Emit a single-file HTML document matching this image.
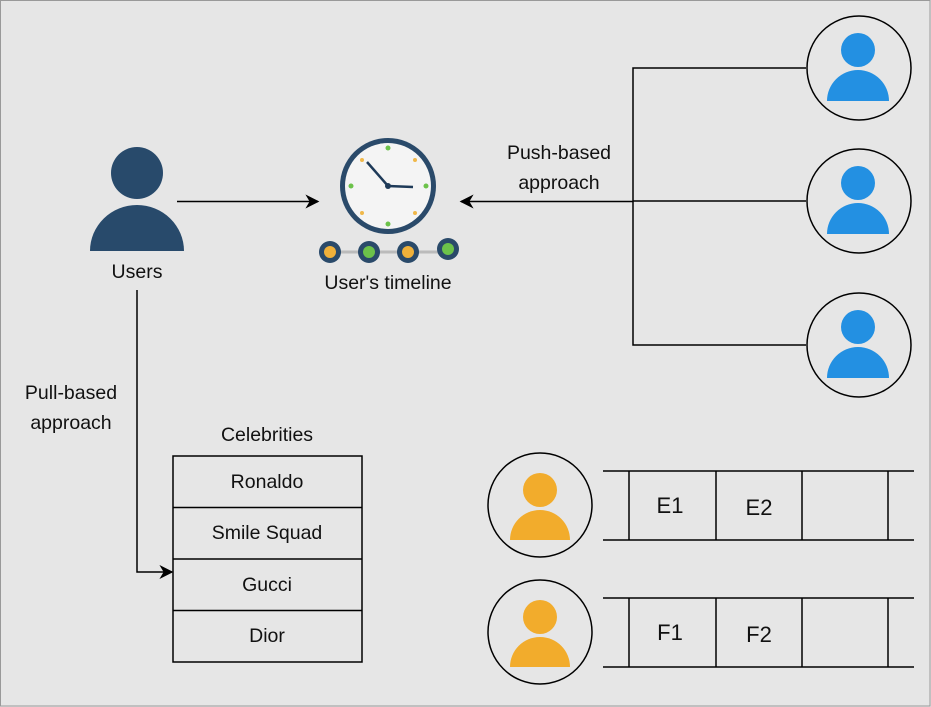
<!DOCTYPE html>
<html><head><meta charset="utf-8"><style>
html,body{margin:0;padding:0;background:#e6e6e6;}
svg{display:block;font-family:"Liberation Sans",Arial,sans-serif;}
</style></head><body>
<svg width="931" height="707" viewBox="0 0 931 707" xmlns="http://www.w3.org/2000/svg">
<defs>
<marker id="ar" viewBox="0 0 10 10" refX="9" refY="5" markerWidth="14" markerHeight="14" markerUnits="userSpaceOnUse" orient="auto">
<path d="M0,0 L10,5 L0,10 L3,5 Z" fill="#000"/></marker>
</defs>
<rect width="931" height="707" fill="#e6e6e6"/>
<rect x="0.5" y="0.5" width="929.5" height="705.5" fill="none" stroke="#999" stroke-width="1"/>

<!-- Users -->
<circle cx="137" cy="173" r="26" fill="#284a6b"/>
<path d="M90,251 A47,46 0 0 1 184,251 Z" fill="#284a6b"/>
<text x="137" y="278" font-size="19.5" text-anchor="middle" fill="#111">Users</text>

<line x1="177" y1="201.5" x2="318" y2="201.5" stroke="#000" stroke-width="1.5" marker-end="url(#ar)"/>

<!-- clock -->
<circle cx="388" cy="186" r="48" fill="#2a4a6a"/>
<circle cx="388" cy="186" r="43" fill="#f4f4f4"/>
<circle cx="388" cy="148" r="2.5" fill="#6cc24a"/><circle cx="388" cy="224" r="2.5" fill="#6cc24a"/>
<circle cx="351" cy="186" r="2.5" fill="#6cc24a"/><circle cx="426" cy="186" r="2.5" fill="#6cc24a"/>
<circle cx="362" cy="160" r="2" fill="#f0b84a"/><circle cx="415" cy="160" r="2" fill="#f0b84a"/>
<circle cx="362" cy="213" r="2" fill="#f0b84a"/><circle cx="415" cy="213" r="2" fill="#f0b84a"/>
<line x1="388" y1="186" x2="367" y2="162" stroke="#1e3a58" stroke-width="2.5"/>
<line x1="388" y1="186" x2="413" y2="187" stroke="#1e3a58" stroke-width="2.5"/>
<circle cx="388" cy="186" r="3" fill="#1e3a58"/>
<line x1="330" y1="252" x2="448" y2="252" stroke="#bbb" stroke-width="3"/>
<circle cx="330" cy="252" r="11" fill="#2a4a6a"/><circle cx="330" cy="252" r="6" fill="#f0b13a"/>
<circle cx="369" cy="252" r="11" fill="#2a4a6a"/><circle cx="369" cy="252" r="6" fill="#6cc24a"/>
<circle cx="408" cy="252" r="11" fill="#2a4a6a"/><circle cx="408" cy="252" r="6" fill="#f0b13a"/>
<circle cx="448" cy="249" r="11" fill="#2a4a6a"/><circle cx="448" cy="249" r="6" fill="#6cc24a"/>
<text x="388" y="289" font-size="19.5" text-anchor="middle" fill="#111">User's timeline</text>

<!-- push -->
<g stroke="#000" stroke-width="1.5" fill="none">
<polyline points="806,68 633,68 633,345 806,345"/>
<line x1="806" y1="201" x2="633" y2="201"/>
</g>
<line x1="633" y1="201.5" x2="461" y2="201.5" stroke="#000" stroke-width="1.5" marker-end="url(#ar)"/>
<text x="559" y="159" font-size="19.5" text-anchor="middle" fill="#111">Push-based</text>
<text x="559" y="189" font-size="19.5" text-anchor="middle" fill="#111">approach</text>

<g>
<circle cx="859" cy="68" r="52" fill="#e6e6e6" stroke="#000" stroke-width="1.5"/>
<circle cx="858" cy="50" r="17" fill="#2390e2"/><path d="M827,101 A31,31 0 0 1 889,101 Z" fill="#2390e2"/>
<circle cx="859" cy="201" r="52" fill="#e6e6e6" stroke="#000" stroke-width="1.5"/>
<circle cx="858" cy="183" r="17" fill="#2390e2"/><path d="M827,234 A31,31 0 0 1 889,234 Z" fill="#2390e2"/>
<circle cx="859" cy="345" r="52" fill="#e6e6e6" stroke="#000" stroke-width="1.5"/>
<circle cx="858" cy="327" r="17" fill="#2390e2"/><path d="M827,378 A31,31 0 0 1 889,378 Z" fill="#2390e2"/>
</g>

<!-- pull -->
<polyline points="137,290 137,572 172,572" fill="none" stroke="#000" stroke-width="1.5" marker-end="url(#ar)"/>
<text x="71" y="399" font-size="19.5" text-anchor="middle" fill="#111">Pull-based</text>
<text x="71" y="429" font-size="19.5" text-anchor="middle" fill="#111">approach</text>

<text x="267" y="441" font-size="19.5" text-anchor="middle" fill="#111">Celebrities</text>
<g stroke="#000" stroke-width="1.5" fill="none">
<rect x="173" y="456" width="189" height="206"/>
<line x1="173" y1="507.5" x2="362" y2="507.5"/>
<line x1="173" y1="559" x2="362" y2="559"/>
<line x1="173" y1="610.5" x2="362" y2="610.5"/>
</g>
<g font-size="19.5" text-anchor="middle" fill="#111">
<text x="267" y="488">Ronaldo</text>
<text x="267" y="539">Smile Squad</text>
<text x="267" y="591">Gucci</text>
<text x="267" y="642">Dior</text>
</g>

<!-- queues -->
<circle cx="540" cy="505" r="52" fill="#e6e6e6" stroke="#000" stroke-width="1.5"/>
<circle cx="540" cy="490" r="17" fill="#f2ac2c"/><path d="M510,540 A30,30 0 0 1 570,540 Z" fill="#f2ac2c"/>
<circle cx="540" cy="632" r="52" fill="#e6e6e6" stroke="#000" stroke-width="1.5"/>
<circle cx="540" cy="617" r="17" fill="#f2ac2c"/><path d="M510,667 A30,30 0 0 1 570,667 Z" fill="#f2ac2c"/>
<g stroke="#000" stroke-width="1.5">
<line x1="603" y1="471" x2="914" y2="471"/><line x1="603" y1="540" x2="914" y2="540"/>
<line x1="629" y1="471" x2="629" y2="540"/><line x1="716" y1="471" x2="716" y2="540"/>
<line x1="802" y1="471" x2="802" y2="540"/><line x1="888" y1="471" x2="888" y2="540"/>
<line x1="603" y1="598" x2="914" y2="598"/><line x1="603" y1="667" x2="914" y2="667"/>
<line x1="629" y1="598" x2="629" y2="667"/><line x1="716" y1="598" x2="716" y2="667"/>
<line x1="802" y1="598" x2="802" y2="667"/><line x1="888" y1="598" x2="888" y2="667"/>
</g>
<g font-size="22" text-anchor="middle" fill="#111">
<text x="670" y="513">E1</text><text x="759" y="515">E2</text>
<text x="670" y="640">F1</text><text x="759" y="642">F2</text>
</g>
</svg>
</body></html>
